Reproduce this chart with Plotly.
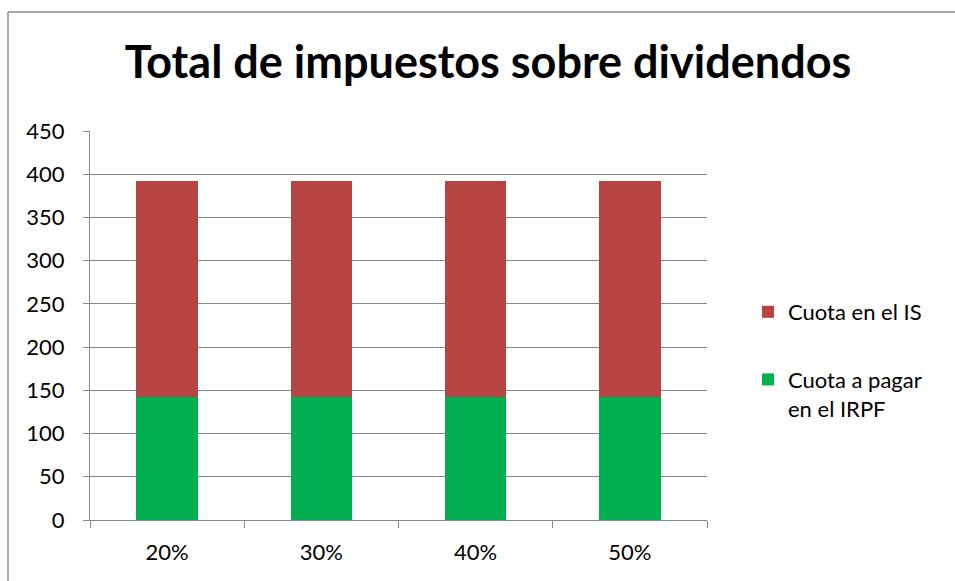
import plotly.graph_objects as go

categories = ["20%", "30%", "40%", "50%"]
irpf = [142.5, 142.5, 142.5, 142.5]
cuota_is = [250, 250, 250, 250]
y_ticks = [0, 50, 100, 150, 200, 250, 300, 350, 400, 450]

W, H = 955, 581
L, R, T, B = 90, 248, 131, 61
pw, ph = W - L - R, H - T - B

fig = go.Figure()
fig.add_trace(go.Bar(x=categories, y=irpf, name="Cuota a pagar<br>en el IRPF",
                     marker=dict(color="#00B050", line=dict(width=0)),
                     legendgroup="a", legendrank=2))
fig.add_trace(go.Bar(x=categories, y=cuota_is, name="Cuota en el IS",
                     marker=dict(color="#B54442", line=dict(width=0)),
                     legendgroup="b", legendrank=1))

grid = "#888888"
fig.update_layout(
    width=W, height=H,
    margin=dict(l=L, r=R, t=T, b=B, pad=0),
    barmode="stack", bargap=0.6,
    paper_bgcolor="white", plot_bgcolor="white",
    font=dict(family="Lato, Carlito, Calibri, sans-serif", size=22, color="black"),
    title=dict(text="<b>Total de impuestos sobre dividendos</b>",
               font=dict(size=45, color="black"),
               x=488 / W, xanchor="center", y=1 - 62 / H, yanchor="middle"),
    xaxis=dict(showgrid=False, showline=True, linecolor=grid, linewidth=1,
               ticks="outside", tickson="boundaries", ticklen=7, tickcolor=grid,
               ticklabelstandoff=13, tickfont=dict(size=22)),
    yaxis=dict(range=[0, 450], tickvals=y_ticks, showgrid=True, gridcolor=grid, gridwidth=1,
               showline=True, linecolor=grid, linewidth=1, ticks="outside", ticklen=6,
               tickcolor=grid, ticklabelstandoff=14, zeroline=False, tickfont=dict(size=22)),
    legend=dict(x=(748 - L) / pw, y=1 - (291 - T) / ph, xanchor="left", yanchor="top",
                traceorder="grouped", tracegroupgap=36, valign="top",
                font=dict(size=22), itemwidth=30),
    showlegend=True,
)

# outer chart border (top and left visible)
bx = (8 - L) / pw
by = 1 + (T - 12) / ph
fig.add_shape(type="line", xref="paper", yref="paper", x0=bx, x1=(W + 5 - L) / pw, y0=by, y1=by,
              line=dict(color="#8C8C8C", width=1.5))
fig.add_shape(type="line", xref="paper", yref="paper", x0=bx, x1=bx, y0=by, y1=-(B + 5) / ph,
              line=dict(color="#8C8C8C", width=1.5))

fig.write_html("out.html", config={"displayModeBar": False},
               post_script="document.body.style.margin='0';document.body.style.overflow='hidden';")
